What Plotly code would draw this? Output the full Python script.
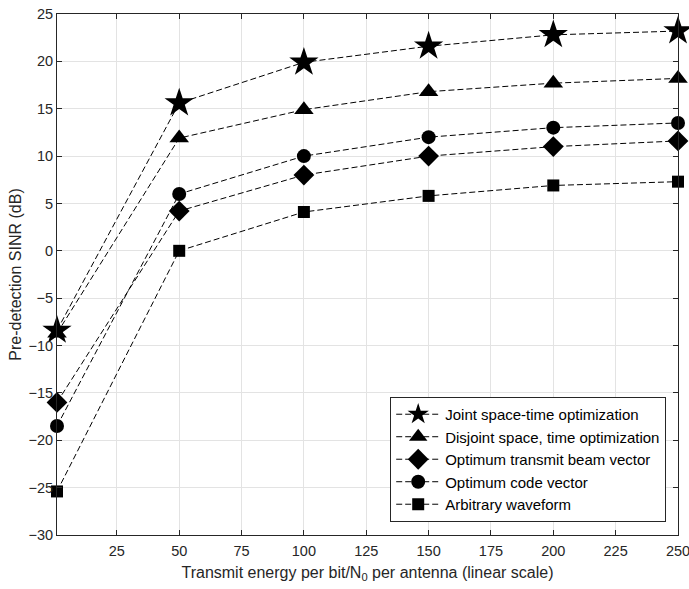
import plotly.graph_objects as go

# Transmit energy per bit / N0 per antenna (linear scale)
energy = [1, 50, 100, 150, 200, 250]

# Pre-detection SINR (dB) per scheme
joint_st = [-8.4, 15.6, 19.9, 21.6, 22.8, 23.2]
disjoint_st = [-8.7, 11.9, 14.9, 16.8, 17.7, 18.2]
opt_beam = [-16.0, 4.2, 8.0, 10.0, 11.0, 11.6]
opt_code = [-18.5, 6.0, 10.0, 12.0, 13.0, 13.5]
arbitrary = [-25.4, 0.0, 4.1, 5.8, 6.9, 7.3]

x_ticks = [25, 50, 75, 100, 125, 150, 175, 200, 225, 250]
y_ticks = [-30, -25, -20, -15, -10, -5, 0, 5, 10, 15, 20, 25]

series = [
    ("Joint space-time optimization", joint_st, "star", 22),
    ("Disjoint space, time optimization", disjoint_st, "triangle-up", 17),
    ("Optimum transmit beam vector", opt_beam, "diamond", 16),
    ("Optimum code vector", opt_code, "circle", 14),
    ("Arbitrary waveform", arbitrary, "square", 12),
]

fig = go.Figure()
for name, vals, sym, sz in series:
    fig.add_trace(go.Scatter(
        x=energy, y=vals, name=name, mode="lines+markers",
        line=dict(color="black", width=1, dash="6px,3px"),
        marker=dict(symbol=sym, size=sz, color="black"),
        cliponaxis=False,
    ))

axis_common = dict(
    showline=True, linecolor="#262626", linewidth=1, mirror="allticks",
    ticks="inside", ticklen=5, tickcolor="#262626",
    showgrid=True, gridcolor="#e3e3e3", gridwidth=1, zeroline=False,
    ticklabeloverflow="allow", automargin=False,
    tickfont=dict(family="Liberation Sans, Arial, sans-serif", size=14.5, color="#262626"),
)

fig.update_layout(
    width=689, height=589,
    margin=dict(l=57, r=11, t=14, b=54),
    paper_bgcolor="white", plot_bgcolor="white",
    font=dict(family="Liberation Sans, Arial, sans-serif", color="#262626"),
    xaxis=dict(
        range=[0.999, 250.001], tickvals=x_ticks, ticklabelstandoff=3,
        title=dict(text="Transmit energy per bit/N<sub>0</sub> per antenna (linear scale)",
                   font=dict(size=16), standoff=8),
        **axis_common,
    ),
    yaxis=dict(
        range=[-30, 25], tickvals=y_ticks,
        title=dict(text="Pre-detection SINR (dB)", font=dict(size=16), standoff=2),
        **axis_common,
    ),
    legend=dict(
        x=0.981, y=0.025, xanchor="right", yanchor="bottom",
        bgcolor="white", bordercolor="#262626", borderwidth=1,
        font=dict(size=15, color="black"), tracegroupgap=0,
        itemwidth=44,
    ),
    showlegend=True,
)

fig.write_html("out.html")
